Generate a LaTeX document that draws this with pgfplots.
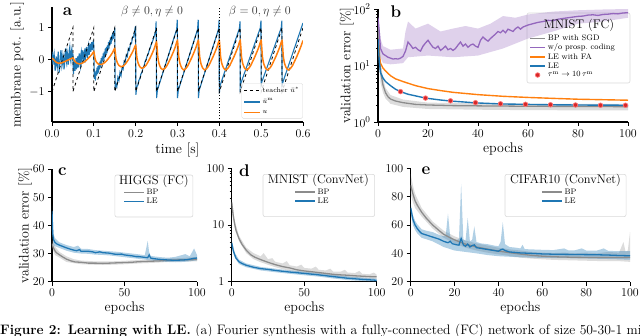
\documentclass[border=0pt]{standalone}
\usepackage{pgfplots}
\pgfplotsset{compat=1.18}
\definecolor{mblue}{HTML}{1F77B4}
\definecolor{morange}{HTML}{FF7F0E}
\definecolor{mgray}{HTML}{8C8C8C}
\definecolor{mpurple}{HTML}{9467BD}
\definecolor{mred}{HTML}{D62728}
\tikzset{
  panel/.style={font=\fontsize{17}{17}\selectfont\bfseries, anchor=center},
  ltitle/.style={font=\fontsize{12.5}{12.5}\selectfont, anchor=center},
  lbox/.style={draw=black!15, fill=white, fill opacity=0.8, rounded corners=2pt, line width=0.6pt},
  lstyle/.style={draw=none, fill=none, inner sep=0pt, row sep=-2pt, font=\fontsize{8}{8}\selectfont},
}
\pgfplotsset{
  myax/.style={scale only axis, anchor=south west, axis lines*=left, enlargelimits=false,
    axis line style={line width=1.1pt, black}, tick align=outside,
    major tick style={black, line width=0.9pt}, minor tick style={black, line width=0.6pt},
    major tick length=4bp, minor tick length=2.2bp,
    tick label style={font=\fontsize{13}{13}\selectfont},
    label style={font=\fontsize{14}{14}\selectfont},
    clip mode=individual, legend cell align=left},
  limg/.style={legend image code/.code={\draw[mark repeat=2,mark phase=2,##1] plot coordinates {(0bp,0bp) (#1/2,0bp) (#1,0bp)};}},
}
\begin{document}
\begin{tikzpicture}
\useasboundingbox (0,0) rectangle (640bp,336bp);
\clip (0,0) rectangle (640bp,336bp);

% ---------------- panel a ----------------
\begin{axis}[myax, at={(52bp,214bp)}, width=251bp, height=115bp,
  xmin=0, xmax=0.6, ymin=-1.95, ymax=1.65,
  xtick={0,0.1,0.2,0.3,0.4,0.5,0.6}, ytick={-1,0,1},
  xticklabel style={/pgf/number format/.cd, fixed, fixed zerofill, precision=1},
  xlabel={time [s]}, ylabel={membrane pot. [a.u.]},
  xlabel style={at={(axis description cs:0.5,-0.243)}, anchor=center},
  ylabel style={at={(axis description cs:-0.139,0.5)}, anchor=center},
  limg=16bp,
  legend style={at={(axis description cs:1.0,0.03)}, anchor=south east, draw=black!15,
    rounded corners=1.5pt, fill=white, fill opacity=0.8, text opacity=1,
    font=\fontsize{7}{7}\selectfont, inner sep=1.5pt, row sep=1pt}]
\addlegendimage{black, dashed, line width=0.9pt}
\addlegendentry{teacher $\bar u^{*}$}
\addlegendimage{mblue, line width=1.3pt}
\addlegendentry{$\bar u^{\mathrm{m}}$}
\addlegendimage{morange, line width=1.5pt}
\addlegendentry{$u$}
\addplot[mblue, line width=1.1pt, forget plot] coordinates {
(0.00000,0.25)(0.00125,0.05)(0.00250,-0.15)(0.00375,0.10)(0.00500,0.20)(0.00625,-0.05)(0.00750,-0.35)(0.00875,-0.10)
(0.01000,0.10)(0.01125,-0.15)(0.01250,-0.25)(0.01375,0.05)(0.01500,0.25)(0.01625,-0.10)(0.01750,-0.40)(0.01875,-0.15)
(0.02000,0.05)(0.02125,0.30)(0.02250,0.15)(0.02375,-0.20)(0.02500,-0.10)(0.02625,0.15)(0.02750,0.05)(0.02875,-0.30)
(0.03000,-0.15)(0.03125,0.20)(0.03250,0.35)(0.03375,0.00)(0.03500,-0.10)(0.03625,0.25)(0.03750,0.15)(0.03875,-0.15)
(0.04000,0.05)(0.04125,0.30)(0.04250,0.40)(0.04375,0.05)(0.04500,-0.05)(0.04625,0.25)(0.04750,0.35)(0.04875,0.10)
(0.05000,0.20)
(0.05125,-0.45)(0.05250,-0.25)(0.05375,-0.05)(0.05500,-0.35)(0.05625,-0.20)(0.05750,0.05)(0.05875,-0.30)(0.06000,-0.10)
(0.06125,0.10)(0.06250,-0.25)(0.06375,-0.05)(0.06500,0.20)(0.06625,-0.10)(0.06750,-0.20)(0.06875,0.15)(0.07000,0.25)
(0.07125,-0.05)(0.07250,0.05)(0.07375,0.30)(0.07500,0.10)(0.07625,-0.10)(0.07750,0.20)(0.07875,0.35)(0.08000,0.05)
(0.08125,0.15)(0.08250,0.40)(0.08375,0.20)(0.08500,0.05)(0.08625,0.35)(0.08750,0.45)(0.08875,0.15)(0.09000,0.30)
(0.09125,0.50)(0.09250,0.25)(0.09375,0.40)(0.09500,0.55)(0.09625,0.30)(0.09750,0.45)(0.09875,0.60)(0.10000,0.40)
(0.10125,-0.60)(0.10250,-0.40)(0.10375,-0.65)(0.10500,-0.35)(0.10625,-0.50)(0.10750,-0.25)(0.10875,-0.45)(0.11000,-0.20)
(0.11125,-0.40)(0.11250,-0.10)(0.11375,-0.30)(0.11500,-0.05)(0.11625,-0.25)(0.11750,0.05)(0.11875,-0.15)(0.12000,0.10)
(0.12125,-0.05)(0.12250,0.20)(0.12375,0.00)(0.12500,0.25)(0.12625,0.05)(0.12750,0.35)(0.12875,0.15)(0.13000,0.40)
(0.13125,0.20)(0.13250,0.45)(0.13375,0.30)(0.13500,0.55)(0.13625,0.35)(0.13750,0.60)(0.13875,0.45)(0.14000,0.70)
(0.14125,0.50)(0.14250,0.75)(0.14375,0.60)(0.14500,0.85)(0.14625,0.65)(0.14750,0.90)(0.14875,0.75)(0.15000,1.00)
(0.1510,-0.95)(0.1525,-0.75)(0.1550,-0.85)(0.1575,-0.55)(0.1600,-0.65)(0.1625,-0.40)(0.1650,-0.50)(0.1675,-0.25)
(0.1700,-0.30)(0.1725,-0.05)(0.1750,-0.10)(0.1775,0.15)(0.1800,0.10)(0.1825,0.35)(0.1850,0.30)(0.1875,0.50)
(0.1900,0.50)(0.1925,0.70)(0.1950,0.70)(0.1975,0.90)(0.1995,1.05)
(0.2005,-1.10)(0.2025,-0.85)(0.2050,-0.80)(0.2075,-0.65)(0.2100,-0.60)(0.2125,-0.45)(0.2150,-0.40)(0.2175,-0.25)
(0.2200,-0.22)(0.2225,-0.05)(0.2250,0.00)(0.2275,0.12)(0.2300,0.18)(0.2325,0.30)(0.2350,0.38)(0.2375,0.48)
(0.2400,0.56)(0.2425,0.66)(0.2450,0.76)(0.2475,0.88)(0.2490,1.20)
(0.2500,-1.20)(0.2520,-0.95)(0.2750,0.00)(0.2980,0.95)(0.2995,1.25)
(0.3000,-1.20)(0.3020,-0.95)(0.3250,0.00)(0.3480,0.95)(0.3495,1.25)
(0.3500,-1.20)(0.3520,-0.95)(0.3750,0.00)(0.3980,0.95)(0.3995,1.25)
(0.4000,-1.05)(0.4020,-0.80)(0.4480,0.98)(0.4495,1.20)
(0.4500,-0.85)(0.4520,-0.72)(0.4980,1.00)(0.4995,1.22)
(0.5000,-0.78)(0.5020,-0.68)(0.5480,1.00)(0.5495,1.22)
(0.5500,-0.80)(0.5520,-0.70)(0.6000,1.15)};
\addplot[black, dashed, line width=0.8pt, forget plot] coordinates {
(0,-1)(0.05,1)(0.05,-1)(0.1,1)(0.1,-1)(0.15,1)(0.15,-1)(0.2,1)(0.2,-1)(0.25,1)(0.25,-1)(0.3,1)(0.3,-1)
(0.35,1)(0.35,-1)(0.4,1)(0.4,-1)(0.45,1)(0.45,-1)(0.5,1)(0.5,-1)(0.55,1)(0.55,-1)(0.6,1)};
\addplot[morange, line width=1.5pt, smooth, tension=0.3, forget plot] coordinates {
(0,0.05)(0.003,0.02)(0.006,-0.03)(0.01,-0.08)(0.015,-0.11)(0.02,-0.11)(0.025,-0.09)(0.03,-0.06)(0.035,-0.03)(0.04,0.0)(0.045,0.03)(0.05,0.06)
(0.053,-0.02)(0.056,-0.07)(0.06,-0.11)(0.065,-0.13)(0.07,-0.12)(0.075,-0.09)(0.08,-0.04)(0.085,0.02)(0.09,0.09)(0.095,0.16)(0.1,0.25)
(0.103,0.03)(0.106,-0.07)(0.11,-0.13)(0.115,-0.15)(0.12,-0.14)(0.125,-0.10)(0.13,-0.04)(0.135,0.04)(0.14,0.13)(0.145,0.23)(0.15,0.35)
(0.153,0.04)(0.156,-0.09)(0.16,-0.18)(0.165,-0.22)(0.17,-0.20)(0.175,-0.14)(0.18,-0.05)(0.185,0.06)(0.19,0.18)(0.195,0.31)(0.2,0.45)
(0.203,0.06)(0.206,-0.11)(0.21,-0.22)(0.215,-0.27)(0.22,-0.24)(0.225,-0.17)(0.23,-0.06)(0.235,0.07)(0.24,0.21)(0.245,0.37)(0.25,0.55)
(0.253,0.08)(0.256,-0.13)(0.26,-0.26)(0.265,-0.31)(0.27,-0.27)(0.275,-0.18)(0.28,-0.05)(0.285,0.09)(0.29,0.24)(0.295,0.41)(0.3,0.6)
(0.303,0.094)(0.306,-0.118)(0.31,-0.256)(0.315,-0.32)(0.32,-0.274)(0.325,-0.182)(0.33,-0.044)(0.335,0.094)(0.34,0.25)(0.345,0.416)(0.35,0.6)
(0.353,0.094)(0.356,-0.118)(0.36,-0.256)(0.365,-0.32)(0.37,-0.274)(0.375,-0.182)(0.38,-0.044)(0.385,0.094)(0.39,0.25)(0.395,0.416)(0.4,0.6)
(0.403,0.094)(0.406,-0.118)(0.41,-0.256)(0.415,-0.32)(0.42,-0.274)(0.425,-0.182)(0.43,-0.044)(0.435,0.094)(0.44,0.25)(0.445,0.416)(0.45,0.6)
(0.453,0.094)(0.456,-0.118)(0.46,-0.256)(0.465,-0.32)(0.47,-0.274)(0.475,-0.182)(0.48,-0.044)(0.485,0.094)(0.49,0.25)(0.495,0.416)(0.5,0.6)
(0.503,0.094)(0.506,-0.118)(0.51,-0.256)(0.515,-0.32)(0.52,-0.274)(0.525,-0.182)(0.53,-0.044)(0.535,0.094)(0.54,0.25)(0.545,0.416)(0.55,0.6)
(0.553,0.094)(0.556,-0.118)(0.56,-0.256)(0.565,-0.32)(0.57,-0.274)(0.575,-0.182)(0.58,-0.044)(0.585,0.094)(0.59,0.25)(0.595,0.416)(0.6,0.6)};
\addplot[black, dotted, line width=0.9pt, forget plot] coordinates {(0.4,-1.95)(0.4,1.65)};
\node[panel] at (axis description cs:0.062,0.957) {a};
\node[font=\fontsize{12.5}{12.5}\selectfont, text=black!80] at (axis cs:0.239,1.5) {$\beta\neq0,\eta\neq0$};
\node[font=\fontsize{12.5}{12.5}\selectfont, text=black!80] at (axis cs:0.497,1.5) {$\beta=0,\eta\neq0$};
\end{axis}

% ---------------- panel b ----------------
\begin{axis}[myax, at={(378bp,214bp)}, width=250bp, height=113bp,
  xmin=0, xmax=100, ymin=1, ymax=100, ymode=log,
  xtick={0,20,40,60,80,100}, ytick={1,10,100},
  xlabel={epochs}, ylabel={validation error [\%]},
  xlabel style={at={(axis description cs:0.5,-0.235)}, anchor=center},
  ylabel style={at={(axis description cs:-0.124,0.5)}, anchor=center},
  limg=15bp,
  legend style={lstyle, at={(axis description cs:0.605,0.79)}, anchor=north west}]
\draw[lbox] (axis description cs:0.596,0.345) rectangle (axis description cs:1.008,0.965);
\addplot[fill=mpurple, fill opacity=0.3, draw=none, forget plot] coordinates {
(0,90)(1,30)(2,22)(5,19)(10,20)(11,40)(12,60)(15,45)(20,55)(25,40)(30,45)(35,50)(40,45)(45,55)(50,75)(55,70)(60,80)(70,90)(80,95)(90,98)(100,100)
(100,70)(90,60)(80,55)(70,40)(60,30)(50,20)(40,15)(30,14)(20,15)(12,14)(10,11)(5,10.5)(2,11)(1,14)(0,50)};
\addplot[fill=mgray, fill opacity=0.3, draw=none, forget plot] coordinates {
(0,80)(1,12)(2,6)(3,4)(5,3)(10,2.5)(20,2.2)(40,2.15)(60,2.1)(100,2.1)
(100,1.6)(60,1.62)(40,1.65)(20,1.7)(10,1.85)(5,2.1)(3,2.6)(2,3.3)(1,5)(0,40)};
\addplot[mgray, line width=1.3pt] coordinates {
(0,60)(0.5,20)(1,8)(2,4.5)(3,3.3)(4,2.8)(5,2.55)(7,2.35)(10,2.2)(15,2.05)(20,2.0)(30,1.95)(40,1.93)(60,1.9)(80,1.88)(100,1.87)};
\addlegendentry{BP with SGD}
\addplot[mpurple, line width=1.3pt] coordinates {
(0,70)(0.5,40)(1,20)(2,16)(3,15)(4,14)(5,13.5)(6,13)(7,13.2)(8,13)(9,13.5)(10,14.5)(11,18)(12,26)(13,23)(14,20)(15,21)(16,19)(17,18)(18,22)(19,25)(20,28)
(21,24)(22,21)(23,20)(24,22)(25,18.5)(26,20)(27,22)(28,19)(29,20)(30,18.5)(31,20)(32,23)(33,26)(34,22)(35,24)(36,21)(37,23)(38,24)(39,22)(40,21)
(41,28)(42,32)(43,29)(44,27)(45,30)(46,33)(47,36)(48,40)(49,38)(50,42)(51,38)(52,44)(53,42)(54,40)(55,45)(56,48)(57,44)(58,48)(59,50)(60,52)
(62,55)(64,58)(66,60)(68,63)(70,62)(72,66)(74,68)(76,70)(78,72)(80,74)(82,75)(84,78)(86,79)(88,77)(90,80)(92,81)(94,83)(96,82)(98,85)(100,86)};
\addlegendentry{w/o prosp.\ coding}
\addplot[morange, line width=1.4pt] coordinates {
(0,30)(0.5,15)(1,11)(2,9)(3,8)(5,6.6)(7,5.8)(10,5.2)(15,4.4)(20,3.9)(25,3.6)(30,3.35)(40,3.05)(50,2.85)(60,2.72)(70,2.62)(80,2.53)(90,2.48)(100,2.43)};
\addlegendentry{LE with FA}
\addplot[mblue, line width=1.4pt] coordinates {
(0,30)(0.5,12)(1,7.5)(2,6)(3,5.2)(5,4.4)(7,3.8)(9,3.45)(12,3.1)(15,2.9)(19,2.65)(25,2.45)(29,2.35)(35,2.25)(39,2.18)(49,2.09)(59,2.05)(69,2.02)(79,2.0)(89,1.99)(100,1.98)};
\addlegendentry{LE}
\addplot[only marks, mark=*, mark size=2.3pt, mark options={fill=mred, draw=red!55!white, line width=0.7pt}] coordinates {
(9,3.45)(19,2.65)(29,2.37)(39,2.2)(49,2.1)(59,2.06)(69,2.02)(79,2.0)(89,1.98)(99,1.98)};
\addlegendentry{$\tau^{\mathrm{m}}\rightarrow10\,\tau^{\mathrm{m}}$}
\node[ltitle] at (axis description cs:0.804,0.858) {MNIST (FC)};
\node[panel] at (axis description cs:0.072,0.975) {b};
\end{axis}

% ---------------- panel c ----------------
\begin{axis}[myax, at={(52bp,54.3bp)}, width=145bp, height=112.7bp,
  xmin=0, xmax=100, ymin=20, ymax=60,
  xtick={0,50,100}, ytick={20,30,40,50,60},
  xlabel={epochs}, ylabel={validation error [\%]},
  xlabel style={at={(axis description cs:0.5,-0.233)}, anchor=center},
  ylabel style={at={(axis description cs:-0.186,0.5)}, anchor=center},
  limg=20bp,
  legend style={lstyle, at={(axis description cs:0.62,0.84)}, anchor=north}]
\draw[lbox] (axis description cs:0.434,0.574) rectangle (axis description cs:0.972,0.947);
\addplot[fill=mgray, fill opacity=0.3, draw=none, forget plot] coordinates {
(0,35)(2,32.5)(5,30.6)(10,29)(15,28)(20,27.5)(30,27.2)(40,27.2)(50,27.4)(60,27.7)(70,27.9)(80,28.2)(90,28.4)(100,28.8)
(100,27.2)(90,27.2)(80,27)(70,26.7)(60,26.5)(50,26.2)(40,26)(30,26)(20,26.2)(15,26.6)(10,27)(5,28.6)(2,29.5)(0,32)};
\addplot[fill=mblue, fill opacity=0.35, draw=none, forget plot] coordinates {
(0,47)(1,37)(2,35.5)(5,34)(10,33)(15,32.3)(18,32.8)(20,31.7)(25,31.6)(30,31.2)(35,31)(40,30.8)(45,30.6)(50,30.3)(55,30)(60,29.7)(64,29.4)(66,34.5)(67,30.5)(68,29.2)(70,29)(75,28.7)(80,28.5)(85,28.8)(90,29.5)(92,29.8)(95,29)(98,31.8)(100,29.5)
(100,27.6)(95,27.2)(90,27)(85,26.9)(80,27)(75,27.2)(70,27.4)(65,27.8)(60,28.1)(55,28.4)(50,28.7)(45,29)(40,29.3)(35,29.5)(30,29.6)(25,29.9)(20,30)(15,30.3)(10,31)(5,32)(2,32.6)(1,33)(0,40)};
\addplot[mgray, line width=1.3pt] coordinates {
(0,33.5)(1,32)(2,31)(3,30.3)(5,29.6)(7,28.9)(10,28)(13,27.4)(16,27)(20,26.9)(25,26.6)(30,26.6)(35,26.5)(40,26.6)(45,26.7)(50,26.8)(55,26.9)(60,27.1)(65,27.2)(70,27.3)(75,27.4)(80,27.6)(85,27.7)(90,27.8)(95,27.8)(100,27.9)};
\addlegendentry{BP}
\addplot[mblue, line width=1.3pt] coordinates {
(0,45)(0.5,37)(1,35)(2,34)(3,33.5)(5,33)(7,32.6)(10,32)(13,31.5)(15,31.2)(17,31)(19,31.4)(20,30.8)(25,30.8)(28,30.6)(30,30.3)(33,30.6)(35,30.3)(38,30.2)(40,30.1)(43,29.8)(45,29.7)(48,29.8)(50,29.5)(53,29.3)(55,29.2)(58,28.9)(60,28.9)(63,28.7)(66,28.5)(67,29.5)(68,28.4)(70,28.2)(73,28.0)(75,27.9)(78,27.8)(80,27.7)(85,27.6)(90,27.7)(93,27.8)(95,28)(98,28.3)(100,28.4)};
\addlegendentry{LE}
\node[ltitle] at (axis description cs:0.703,0.894) {HIGGS (FC)};
\node[panel] at (axis description cs:0.072,0.98) {c};
\end{axis}

% ---------------- panel d ----------------
\begin{axis}[myax, at={(231.7bp,54.3bp)}, width=145bp, height=113.4bp,
  xmin=0, xmax=100, ymin=1, ymax=100, ymode=log, log ticks with fixed point,
  xtick={0,50,100}, ytick={1,10,100},
  xlabel={epochs},
  xlabel style={at={(axis description cs:0.5,-0.232)}, anchor=center},
  limg=20bp,
  legend style={lstyle, at={(axis description cs:0.56,0.84)}, anchor=north}]
\draw[lbox] (axis description cs:0.216,0.574) rectangle (axis description cs:0.986,0.947);
\addplot[fill=mgray, fill opacity=0.3, draw=none, forget plot] coordinates {
(0,30)(2,12)(5,6.5)(10,4.0)(15,3.2)(20,2.8)(22,3.2)(25,2.5)(28,2.6)(30,2.25)(35,2.1)(38,2.3)(40,1.95)(45,1.85)(48,2.0)(50,1.75)(55,1.7)(58,1.85)(60,1.62)(65,1.58)(68,1.7)(70,1.5)(75,1.5)(78,1.62)(80,1.45)(85,1.42)(88,1.55)(90,1.38)(95,1.35)(98,1.45)(100,1.33)
(100,1.12)(90,1.14)(80,1.18)(70,1.22)(60,1.3)(50,1.38)(40,1.55)(30,1.8)(20,2.2)(15,2.5)(10,3.2)(5,5.2)(2,9)(0,20)};
\addplot[fill=mblue, fill opacity=0.35, draw=none, forget plot] coordinates {
(0,5.5)(2,3.3)(5,2.45)(10,2.1)(20,1.82)(30,1.7)(40,1.58)(50,1.5)(60,1.42)(70,1.32)(80,1.24)(90,1.18)(100,1.13)
(100,1.0)(90,1.03)(80,1.07)(70,1.14)(60,1.23)(50,1.3)(40,1.38)(30,1.47)(20,1.58)(10,1.8)(5,2.05)(2,2.7)(0,4.2)};
\addplot[mgray, line width=1.3pt] coordinates {
(0,25)(1,15)(2,10.5)(3,8)(4,6.8)(5,5.8)(7,4.6)(10,3.6)(13,3.0)(16,2.7)(20,2.45)(25,2.2)(30,2.0)(35,1.85)(40,1.75)(45,1.62)(50,1.55)(55,1.5)(60,1.45)(65,1.4)(70,1.35)(75,1.32)(80,1.3)(85,1.27)(90,1.25)(95,1.23)(100,1.22)};
\addlegendentry{BP}
\addplot[mblue, line width=1.3pt] coordinates {
(0,4.8)(1,3.6)(2,3.0)(3,2.6)(5,2.25)(7,2.1)(10,1.95)(15,1.8)(20,1.7)(25,1.65)(30,1.58)(40,1.48)(50,1.4)(60,1.32)(70,1.23)(80,1.15)(90,1.1)(100,1.06)};
\addlegendentry{LE}
\node[ltitle] at (axis description cs:0.598,0.894) {MNIST (ConvNet)};
\node[panel] at (axis description cs:0.088,0.98) {d};
\end{axis}

% ---------------- panel e ----------------
\begin{axis}[myax, at={(410.7bp,54.3bp)}, width=219.3bp, height=113.4bp,
  xmin=0, xmax=100, ymin=20, ymax=100,
  xtick={0,20,40,60,80,100}, ytick={20,40,60,80,100},
  xlabel={epochs},
  xlabel style={at={(axis description cs:0.5,-0.232)}, anchor=center},
  limg=20bp,
  legend style={lstyle, at={(axis description cs:0.68,0.84)}, anchor=north}]
\draw[lbox] (axis description cs:0.43,0.574) rectangle (axis description cs:0.982,0.947);
\addplot[fill=mgray, fill opacity=0.3, draw=none, forget plot] coordinates {
(0,96)(1,88)(2,82)(5,72)(10,62.5)(15,56)(20,52)(25,49)(30,47)(35,45.5)(40,44)(45,42.8)(50,42)(55,41)(60,40.5)(65,40.2)(70,40.5)(75,40)(80,40.5)(85,40)(90,41)(95,40.5)(97,48)(98,41)(99,42)(100,55)
(100,34)(95,34.5)(90,34.5)(85,34.6)(80,34.8)(75,35)(70,35.2)(65,35.4)(60,35.8)(55,36.3)(50,37)(45,38.2)(40,39.3)(35,40.5)(30,42)(25,44)(20,47)(15,51)(10,57.5)(5,66)(2,72)(1,76)(0,82)};
\addplot[fill=mblue, fill opacity=0.35, draw=none, forget plot] coordinates {
(0,75)(1,67)(2,63)(3,60.5)(5,57)(7,56)(10,55)(13,53)(15,52)(16,53)(17,68)(18,52)(19,50.5)(20,50)(21,49.5)(22,50)(23,89)(24,50)(25,49)(26,65)(27,48.5)(28,49.5)(29,59)(30,48)(32,47)(35,46.5)(38,45.5)(40,45)(41,48)(42,62)(43,46.5)(45,44.5)(48,44)(50,43.5)(51,46)(52,43)(55,42.8)(60,42.5)(65,42.3)(70,43.5)(72,42)(75,42.2)(78,43.5)(80,42)(85,42)(88,43.5)(90,41.8)(95,41.5)(100,41.5)
(100,35.5)(95,35.8)(90,36)(85,36.2)(80,36.4)(70,36.6)(60,36.8)(50,37.2)(45,37.6)(40,38)(35,38.8)(30,40)(25,41)(20,42)(15,44.5)(10,48.5)(5,51)(3,54)(2,56.5)(1,60)(0,68)};
\addplot[mgray, line width=1.3pt] coordinates {
(0,88)(1,82)(2,77)(3,74)(5,69)(7,65)(10,60)(13,56)(15,53.5)(18,51)(20,49.5)(25,46.5)(30,44.5)(35,43)(40,41.6)(45,40.5)(50,39.5)(55,38.6)(60,38)(65,37.6)(70,37.4)(75,37.2)(80,37.1)(85,37)(90,37.1)(95,37.1)(100,37.2)};
\addlegendentry{BP}
\addplot[mblue, line width=1.3pt] coordinates {
(0,72)(1,64)(2,60)(3,57.5)(4,55.5)(5,54)(7,53)(9,52)(11,51)(13,50)(15,48.5)(17,47.5)(18,48.5)(19,46.8)(21,46)(22,45.8)(23,50.5)(24,46)(25,45)(26,46.5)(27,44.5)(28,45.5)(29,46)(30,44)(32,43.5)(34,43)(36,42.5)(38,42)(40,41.5)(41,42.5)(42,43)(43,42)(45,41)(48,40.6)(50,40.3)(55,40)(60,39.6)(65,39.4)(70,39.3)(75,39.2)(80,39.1)(85,39)(90,38.8)(95,38.5)(100,38.3)};
\addlegendentry{LE}
\node[ltitle] at (axis description cs:0.706,0.894) {CIFAR10 (ConvNet)};
\node[panel] at (axis description cs:0.07,0.98) {e};
\end{axis}

\node[anchor=base west, inner sep=0pt] at (0bp,1.5bp) {\fontsize{13.75}{16}\selectfont\textbf{Figure 2: Learning with LE.} (a) Fourier synthesis with a fully-connected (FC) network of size 50-30-1 mimicking};
\end{tikzpicture}
\end{document}
